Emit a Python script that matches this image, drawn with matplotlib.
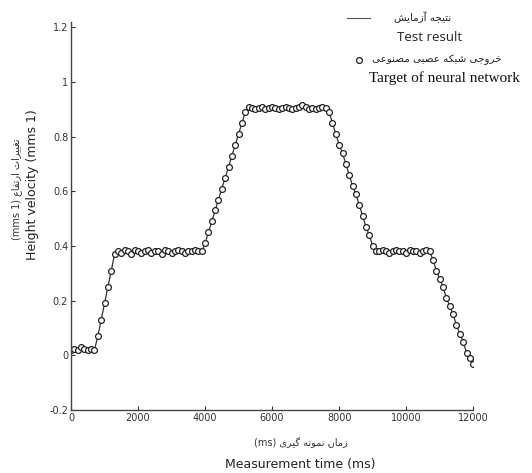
import numpy as np
import matplotlib
matplotlib.use('Agg')
import matplotlib.pyplot as plt
from matplotlib.lines import Line2D

# sampling times (ms) and measured height velocity
time_ms = np.arange(0, 12001, 100)
velocity = [
    0.02, 0.025, 0.02, 0.03, 0.025, 0.02, 0.025, 0.02,
    0.07, 0.13, 0.19, 0.25, 0.31, 0.37,
    0.38, 0.375, 0.385, 0.38, 0.37, 0.385, 0.38, 0.375, 0.38, 0.385,
    0.375, 0.38, 0.38, 0.37, 0.385, 0.38, 0.375, 0.38, 0.385, 0.38,
    0.375, 0.38, 0.38, 0.385, 0.38, 0.38,
    0.41, 0.45, 0.49, 0.53, 0.57, 0.61, 0.65, 0.69, 0.73, 0.77, 0.81, 0.85, 0.89,
    0.91, 0.905, 0.90, 0.905, 0.91, 0.90, 0.905, 0.91, 0.905, 0.90, 0.905, 0.91,
    0.905, 0.90, 0.905, 0.91, 0.915, 0.91, 0.90, 0.905, 0.90, 0.905, 0.91, 0.905,
    0.89, 0.85, 0.81, 0.77, 0.74, 0.70, 0.66, 0.62, 0.59, 0.55, 0.51, 0.47, 0.44, 0.40, 0.38,
    0.38, 0.385, 0.38, 0.375, 0.38, 0.385, 0.38, 0.38, 0.375, 0.385, 0.38, 0.38,
    0.375, 0.38, 0.385, 0.38,
    0.35, 0.31, 0.28, 0.25, 0.21, 0.18, 0.15, 0.11, 0.08, 0.05, 0.01, -0.01, -0.03,
]

xticks = [0, 2000, 4000, 6000, 8000, 10000, 12000]
yticks = [-0.2, 0, 0.2, 0.4, 0.6, 0.8, 1, 1.2]
ytick_labels = ['-0.2', '0', '0.2', '0.4', '0.6', '0.8', '1', '1.2']

# simple persian shaping (matplotlib does no arabic joining)
FORMS = {
    'ا': ('\uFE8D', '\uFE8E', None, None),
    'آ': ('\uFE81', '\uFE82', None, None),
    'ب': ('\uFE8F', '\uFE90', '\uFE91', '\uFE92'),
    'ت': ('\uFE95', '\uFE96', '\uFE97', '\uFE98'),
    'ج': ('\uFE9D', '\uFE9E', '\uFE9F', '\uFEA0'),
    'خ': ('\uFEA5', '\uFEA6', '\uFEA7', '\uFEA8'),
    'ر': ('\uFEAD', '\uFEAE', None, None),
    'ز': ('\uFEAF', '\uFEB0', None, None),
    'ش': ('\uFEB5', '\uFEB6', '\uFEB7', '\uFEB8'),
    'ص': ('\uFEB9', '\uFEBA', '\uFEBB', '\uFEBC'),
    'ع': ('\uFEC9', '\uFECA', '\uFECB', '\uFECC'),
    'غ': ('\uFECD', '\uFECE', '\uFECF', '\uFED0'),
    'ف': ('\uFED1', '\uFED2', '\uFED3', '\uFED4'),
    'ک': ('\uFB8E', '\uFB8F', '\uFB90', '\uFB91'),
    'گ': ('\uFB92', '\uFB93', '\uFB94', '\uFB95'),
    'م': ('\uFEE1', '\uFEE2', '\uFEE3', '\uFEE4'),
    'ن': ('\uFEE5', '\uFEE6', '\uFEE7', '\uFEE8'),
    'ه': ('\uFEE9', '\uFEEA', '\uFEEB', '\uFEEC'),
    'و': ('\uFEED', '\uFEEE', None, None),
    'ی': ('\uFBFC', '\uFBFD', '\uFBFE', '\uFBFF'),
}


def rtl(text):
    out = []
    for i, ch in enumerate(text):
        if ch not in FORMS:
            out.append(ch)
            continue
        prev = text[i - 1] if i > 0 else ''
        nxt = text[i + 1] if i + 1 < len(text) else ''
        jp = prev in FORMS and FORMS[prev][2] is not None
        jn = nxt in FORMS and FORMS[ch][2] is not None
        iso, fin, ini, med = FORMS[ch]
        if jp and jn:
            out.append(med)
        elif jp:
            out.append(fin)
        elif jn:
            out.append(ini)
        else:
            out.append(iso)
    return ''.join(out)[::-1]


fig = plt.figure(figsize=(5.32, 4.73), dpi=100)
ax = fig.add_axes([0.1335, 0.133, 0.756, 0.821])

ax.plot(time_ms, velocity, color='#333333', lw=0.9)
ax.plot(time_ms, velocity, 'o', ms=4.2, mfc='white', mec='#222222', mew=0.9)

ax.set_xlim(0, 12000)
ax.set_ylim(-0.2, 1.22)
ax.set_xticks(xticks)
ax.set_xticklabels([str(v) for v in xticks])
ax.set_yticks(yticks)
ax.set_yticklabels(ytick_labels)
ax.tick_params(direction='in', length=3, labelsize=7, colors='#333333', pad=2)
for s in ['top', 'right']:
    ax.spines[s].set_visible(False)
for s in ['left', 'bottom']:
    ax.spines[s].set_color('#444444')
    ax.spines[s].set_linewidth(1)

# axis titles
fig.text(0.565, 0.065, '(ms) ' + rtl('زمان نمونه گیری'), ha='center', va='center',
         fontsize=7, family='DejaVu Sans', color='#333333')
fig.text(0.565, 0.019, 'Measurement time (ms)', ha='center', va='center',
         fontsize=9, color='#222222')
fig.text(0.032, 0.60, '(mms 1) ' + rtl('تغییرات ارتفاع'), ha='center', va='center',
         rotation=90, fontsize=7, family='DejaVu Sans', color='#333333')
fig.text(0.062, 0.61, 'Height velocity (mms 1)', ha='center', va='center',
         rotation=90, fontsize=9, color='#222222')

# legend block
fig.add_artist(Line2D([0.652, 0.695], [0.963, 0.963], color='#555555', lw=0.8))
fig.text(0.740, 0.963, rtl('نتیجه آزمایش'), ha='left', va='center',
         fontsize=7.5, family='DejaVu Sans', color='#222222')
fig.text(0.807, 0.921, 'Test result', ha='center', va='center',
         fontsize=9.5, family='Open Sans', color='#222222')
fig.add_artist(Line2D([0.675], [0.873], marker='o', ms=4.2, mfc='white',
                      mec='#222222', mew=0.9, ls='none'))
fig.text(0.700, 0.873, rtl('خروجی شبکه عصبی مصنوعی'), ha='left', va='center',
         fontsize=7.5, family='DejaVu Sans', color='#222222')
fig.text(0.835, 0.835, 'Target of neural network', ha='center', va='center',
         fontsize=11, family='Liberation Serif', color='#111111')

fig.savefig('out.png', dpi=100)
